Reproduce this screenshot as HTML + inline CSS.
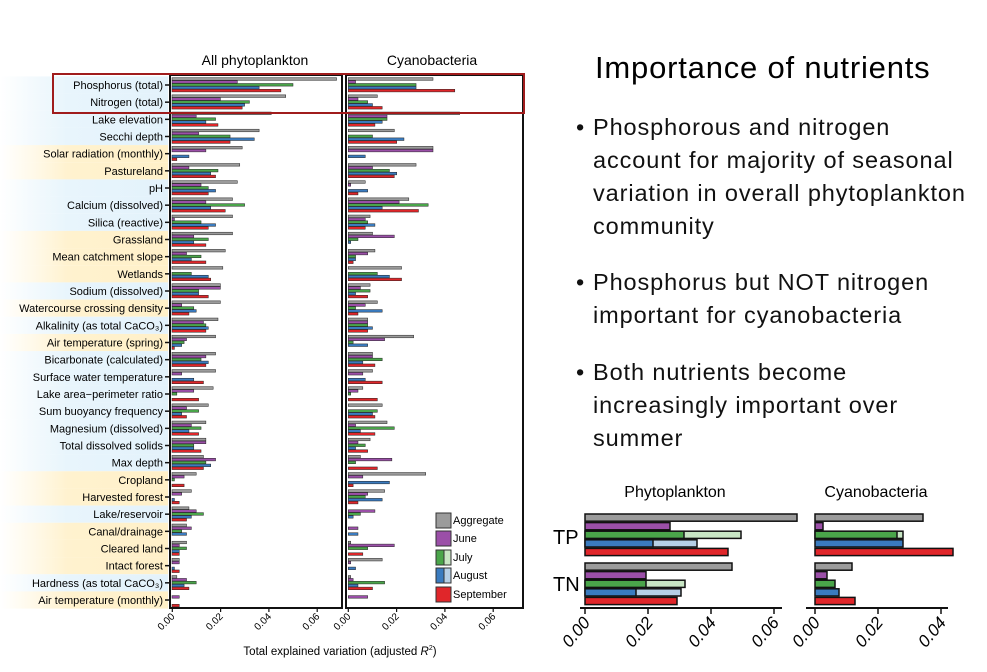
<!DOCTYPE html>
<html><head><meta charset="utf-8"><style>
html,body{margin:0;padding:0;background:#fff;}
body{width:987px;height:672px;overflow:hidden;position:relative;font-family:"Liberation Sans",sans-serif;}
.t{position:absolute;white-space:nowrap;color:#000;}
.b{font-family:"Liberation Sans",sans-serif;font-size:23.5px;letter-spacing:0.9px;line-height:33px;position:absolute;left:593px;color:#111;white-space:nowrap;}
.b span{position:absolute;left:-17px;}
</style></head><body>
<svg id="s" width="987" height="672" style="position:absolute;left:0;top:0">
<defs>
<linearGradient id="gy" x1="0" x2="1"><stop offset="0" stop-color="#fff4d6" stop-opacity="0"/><stop offset="0.4" stop-color="#fff2cf"/><stop offset="1" stop-color="#fff0c8"/></linearGradient>
<linearGradient id="gb" x1="0" x2="1"><stop offset="0" stop-color="#e6f4fb" stop-opacity="0"/><stop offset="0.4" stop-color="#e8f5fc"/><stop offset="1" stop-color="#e3f2fb"/></linearGradient>
</defs>
<g id="bg"></g><g id="bars"></g>
<rect x="170" y="75" width="172" height="533" fill="none" stroke="#111" stroke-width="2"/>
<rect x="346" y="75" width="177" height="533" fill="none" stroke="#111" stroke-width="2"/>
<rect x="53" y="74" width="471" height="39" fill="none" stroke="#a01c1c" stroke-width="2"/>
<text x="255" y="65" font-size="14" text-anchor="middle" font-family="Liberation Sans">All phytoplankton</text>
<text x="432" y="65" font-size="14" text-anchor="middle" font-family="Liberation Sans">Cyanobacteria</text>
<g id="labels" font-size="11" font-family="Liberation Sans" text-anchor="end"></g>
<g id="ticks" font-size="10" font-family="Liberation Sans"></g>
<text x="340" y="655" font-size="11.5" text-anchor="middle" font-family="Liberation Sans">Total explained variation (adjusted <tspan font-style="italic">R</tspan><tspan font-size="7" dy="-5">2</tspan><tspan dy="5">)</tspan></text>
<g font-size="11" font-family="Liberation Sans">
<rect x="436" y="513" width="15" height="15" fill="#9b9b9b" stroke="#333"/><text x="453" y="524">Aggregate</text>
<rect x="436" y="531" width="15" height="15" fill="#9b4fa8" stroke="#333"/><text x="453" y="542">June</text>
<rect x="436" y="550" width="8" height="15" fill="#4aa54a" stroke="#333"/><rect x="444" y="550" width="7" height="15" fill="#c8e6c4" stroke="#333"/><text x="453" y="561">July</text>
<rect x="436" y="568" width="8" height="15" fill="#3a7bbf" stroke="#333"/><rect x="444" y="568" width="7" height="15" fill="#b6cfe6" stroke="#333"/><text x="453" y="579">August</text>
<rect x="436" y="587" width="15" height="15" fill="#e0262a" stroke="#333"/><text x="453" y="598">September</text>
</g>
<g id="br"></g>
<text x="675" y="497" font-size="16" text-anchor="middle" font-family="Liberation Sans">Phytoplankton</text>
<text x="876" y="497" font-size="16" text-anchor="middle" font-family="Liberation Sans">Cyanobacteria</text>
<text x="553" y="544" font-size="20" font-family="Liberation Sans">TP</text>
<text x="553" y="591" font-size="20" font-family="Liberation Sans">TN</text>
<line x1="580" y1="608" x2="782" y2="608" stroke="#111" stroke-width="2"/>
<line x1="806" y1="608" x2="948" y2="608" stroke="#111" stroke-width="2"/>
<g id="brt" font-size="17" font-family="Liberation Sans"></g>
</svg>
<div class="t" style="left:595px;top:50px;font-size:31px;letter-spacing:0.8px;">Importance of nutrients</div>
<div class="b" style="top:111px;"><span>•</span>Phosphorous and nitrogen<br>account for majority of seasonal<br>variation in overall phytoplankton<br>community</div>
<div class="b" style="top:266px;"><span>•</span>Phosphorus but NOT nitrogen<br>important for cyanobacteria</div>
<div class="b" style="top:356px;"><span>•</span>Both nutrients become<br>increasingly important over<br>summer</div>
<script>
var NS="http://www.w3.org/2000/svg";
function el(p,n,a,txt){var e=document.createElementNS(NS,n);for(var k in a)e.setAttribute(k,a[k]);if(txt!=null)e.textContent=txt;document.getElementById(p).appendChild(e);return e;}
var rows=[
["Phosphorus (total)",0,[6.8,2.7,5.0,3.6,4.5],[3.5,0.3,2.8,2.8,4.4]],
["Nitrogen (total)",0,[4.7,2.0,3.2,3.0,2.9],[1.2,0.4,0.8,1.0,1.4]],
["Lake elevation",0,[4.1,1.0,1.8,1.4,1.9],[4.6,1.6,1.6,1.4,1.1]],
["Secchi depth",0,[3.6,1.1,2.4,3.4,2.4],[1.9,0,1.0,2.3,2.0]],
["Solar radiation (monthly)",1,[2.9,1.4,0,0.7,0.2],[3.5,3.5,0,0.7,0]],
["Pastureland",1,[2.8,0.7,1.9,1.6,1.8],[2.8,1.0,1.7,2.0,1.9]],
["pH",0,[2.7,1.2,1.5,1.8,1.5],[0.7,0.1,0,0.8,0.4]],
["Calcium (dissolved)",0,[2.5,1.4,3.0,1.6,2.2],[2.5,2.1,3.3,1.4,2.9]],
["Silica (reactive)",0,[2.5,0.1,1.2,1.8,1.5],[0.9,0.7,0.8,1.1,0.7]],
["Grassland",1,[2.5,0.9,1.5,0.9,1.4],[1.0,1.9,0.4,0.1,0]],
["Mean catchment slope",1,[2.2,0.6,1.2,0.8,1.4],[1.1,0.8,0.3,0.3,0.2]],
["Wetlands",1,[2.1,0,0.8,1.5,1.6],[2.2,0,1.2,1.7,2.2]],
["Sodium (dissolved)",0,[2.0,2.0,1.1,1.1,1.5],[0.9,0.5,0.9,0.3,0.8]],
["Watercourse crossing density",1,[2.0,0.4,0.9,1.0,0.7],[1.2,0.7,0.3,1.4,0.4]],
["Alkalinity (as total CaCO₃)",0,[1.9,1.3,1.4,1.5,1.4],[0.8,0.8,0.8,1.0,0.8]],
["Air temperature (spring)",1,[1.8,0.6,0.5,0.4,0.1],[2.7,1.5,0.2,0.8,0]],
["Bicarbonate (calculated)",0,[1.8,1.4,1.2,1.5,1.4],[1.0,1.0,1.4,0.6,1.1]],
["Surface water temperature",0,[1.8,0.4,0,0.9,1.3],[1.0,0.6,0,0.7,1.4]],
["Lake area−perimeter ratio",0,[1.7,0.9,0.2,0,1.1],[0.6,0.4,0.1,0,1.2]],
["Sum buoyancy frequency",0,[1.5,0.6,1.1,0.4,0.6],[1.4,0,1.2,1.0,1.1]],
["Magnesium (dissolved)",0,[1.4,0.8,1.2,0.7,1.1],[1.6,0.3,1.9,0.5,1.1]],
["Total dissolved solids",0,[1.4,1.4,0.9,0.9,1.2],[0.9,0.4,0.7,0.3,0.8]],
["Max depth",0,[1.3,1.8,1.4,1.6,1.3],[0.5,1.8,0.3,0,1.2]],
["Cropland",1,[1.0,0.5,0.1,0,0.5],[3.2,0.6,0,1.7,0.2]],
["Harvested forest",1,[0.8,0.4,0,0.1,0.3],[1.5,0.8,0.7,1.4,0.4]],
["Lake/reservoir",0,[0.7,1.0,1.3,0.8,0.6],[0,1.1,0.5,0.2,0]],
["Canal/drainage",1,[0.6,0.8,0.4,0.6,0],[0,0.4,0,0.4,0]],
["Cleared land",1,[0.6,0.3,0.6,0.3,0.3],[0.1,1.9,0.8,0,0.6]],
["Intact forest",1,[0.3,0.3,0,0.1,0.3],[1.4,0.1,0,0.3,0]],
["Hardness (as total CaCO₃)",0,[0.2,0.6,1.0,0.5,0.7],[0.1,0.2,1.5,0.4,1.0]],
["Air temperature (monthly)",1,[0,0.3,0,0,0.3],[0,0.8,0,0,0]]
];
var cols=["#9b9b9b","#9b4fa8","#4aa54a","#3a7bbf","#e0262a"];
var step=(600-85)/(rows.length-1);
rows.forEach(function(r,i){
 var c=85+i*step;
 el("bg","rect",{x:0,y:c-step/2,width:168,height:step,fill:r[1]?"url(#gy)":"url(#gb)"});
 el("labels","text",{x:163,y:c+4},r[0]);
 el("bars","line",{x1:165,y1:c,x2:170,y2:c,stroke:"#111","stroke-width":1.5});
 for(var k=0;k<5;k++){
  var y=c-7.3+k*2.9;
  var w1=r[2][k]*24.2, w2=r[3][k]*24.2;
  if(w1>0.3)el("bars","rect",{x:172,y:y,width:w1,height:2.6,fill:cols[k],stroke:"#222","stroke-width":0.5});
  if(w2>0.3)el("bars","rect",{x:348.3,y:y,width:w2,height:2.6,fill:cols[k],stroke:"#222","stroke-width":0.5});
 }
});
var lbl=["0.00","0.02","0.04","0.06"];
[172.3,348.3].forEach(function(x0){
 for(var i=0;i<4;i++){var x=x0+i*48.3;
  el("ticks","line",{x1:x,y1:608,x2:x,y2:612,stroke:"#111","stroke-width":1.2});
  el("ticks","text",{x:x+3,y:617,"text-anchor":"end",transform:"rotate(-45 "+(x+3)+" 617)"},lbl[i]);}
});
function bar(x,y,x2,c){el("br","rect",{x:x,y:y,width:x2-x,height:7.2,fill:c,stroke:"#111","stroke-width":1.5});}
var tp=[[797],[670],[684,741],[653,697],[728]], tn=[[732],[646],[646,685],[636,681],[677]];
var tpr=[[923],[823],[897,903],[903],[953]], tnr=[[852],[827],[835],[839],[855]];
var light=[null,null,"#c8e6c4","#b6cfe6",null];
function grp(d,x0,y0){d.forEach(function(v,k){var y=y0+k*8.6;
 if(v.length>1)bar(x0,y,v[1],light[k]);bar(x0,y,v[0],cols[k]);});}
grp(tp,585,514);grp(tn,585,563);grp(tpr,815,514);grp(tnr,815,563);
[[585,63,4],[815,63,3]].forEach(function(a){for(var i=0;i<a[2];i++){var x=a[0]+i*a[1];
 el("brt","line",{x1:x,y1:608,x2:x,y2:614,stroke:"#111","stroke-width":1.5});
 el("brt","text",{x:x+6,y:623,"text-anchor":"end","font-style":"italic",transform:"rotate(-50 "+(x+6)+" 623)"},lbl[i]);}});
</script>
</body></html>
